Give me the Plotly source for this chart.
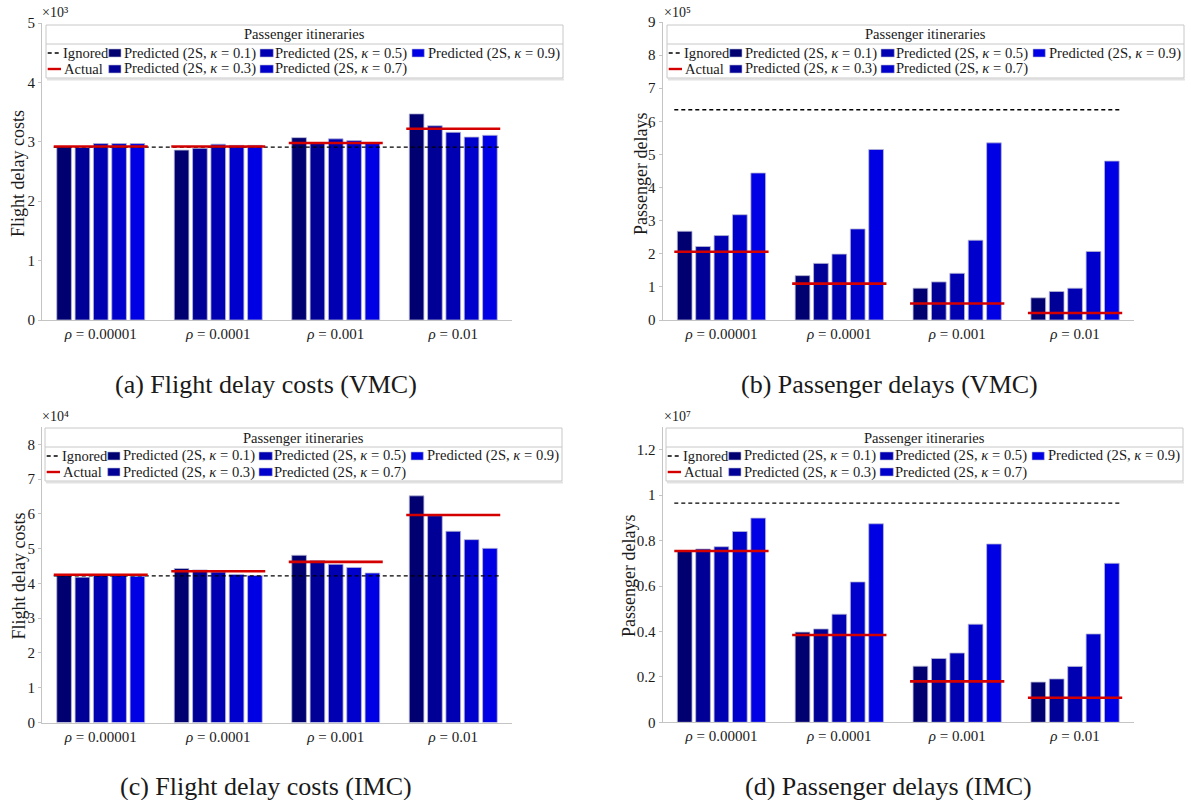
import plotly.graph_objects as go

W, H = 1191, 800
FONT = "'Liberation Serif', 'Times New Roman', serif"
TXT = "#1a1a1a"

# ---------------- data ----------------
rho_labels = ["<i>ρ</i> = 0.00001", "<i>ρ</i> = 0.0001", "<i>ρ</i> = 0.001", "<i>ρ</i> = 0.01"]
kappa_labels = ["0.1", "0.3", "0.5", "0.7", "0.9"]
bar_colors = ["#000070", "#000096", "#0000b2", "#0000cc", "#0000e4"]

# (a) Flight delay costs (VMC), units of 1e3 ; rows = kappa 0.1..0.9, cols = rho
flight_vmc_pred = [
    [2.92, 2.86, 3.07, 3.47],
    [2.905, 2.89, 2.98, 3.27],
    [2.97, 2.96, 3.05, 3.16],
    [2.97, 2.94, 3.02, 3.08],
    [2.97, 2.94, 2.98, 3.11],
]
flight_vmc_actual = [2.92, 2.92, 2.98, 3.22]
flight_vmc_ignored = 2.91

# (b) Passenger delays (VMC), units of 1e5
pax_vmc_pred = [
    [2.68, 1.34, 0.96, 0.67],
    [2.22, 1.71, 1.15, 0.86],
    [2.55, 1.99, 1.41, 0.96],
    [3.18, 2.75, 2.41, 2.07],
    [4.44, 5.15, 5.35, 4.80],
]
pax_vmc_actual = [2.06, 1.10, 0.50, 0.21]
pax_vmc_ignored = 6.35

# (c) Flight delay costs (IMC), units of 1e4
flight_imc_pred = [
    [4.23, 4.43, 4.81, 6.52],
    [4.18, 4.39, 4.66, 5.95],
    [4.23, 4.33, 4.55, 5.50],
    [4.23, 4.26, 4.46, 5.26],
    [4.21, 4.23, 4.30, 5.01],
]
flight_imc_actual = [4.25, 4.35, 4.62, 5.97]
flight_imc_ignored = 4.22

# (d) Passenger delays (IMC), units of 1e7
pax_imc_pred = [
    [0.753, 0.397, 0.247, 0.177],
    [0.763, 0.411, 0.281, 0.191],
    [0.773, 0.476, 0.305, 0.246],
    [0.840, 0.618, 0.432, 0.389],
    [0.899, 0.874, 0.785, 0.700],
]
pax_imc_actual = [0.754, 0.384, 0.180, 0.108]
pax_imc_ignored = 0.965

# ---------------- layout geometry (pixels) ----------------
panels = [
    dict(pred=flight_vmc_pred, actual=flight_vmc_actual, ignored=flight_vmc_ignored,
         ymax=5, dtick=1, ytitle="Flight delay costs", exp="×10³",
         px=(42, 512, 23, 320), leg=(46, 25), expxy=(41, 13), ytxy=(18, 174),
         caption="(a) Flight delay costs (VMC)", capxy=(266, 385)),
    dict(pred=pax_vmc_pred, actual=pax_vmc_actual, ignored=pax_vmc_ignored,
         ymax=9, dtick=1, ytitle="Passenger delays", exp="×10⁵",
         px=(662.5, 1134, 22, 320), leg=(667, 25), expxy=(663, 13), ytxy=(641, 174),
         caption="(b) Passenger delays (VMC)", capxy=(889, 385)),
    dict(pred=flight_imc_pred, actual=flight_imc_actual, ignored=flight_imc_ignored,
         ymax=8.5, dtick=1, ytitle="Flight delay costs", exp="×10⁴",
         px=(42, 512, 427, 722.5), leg=(45, 428), expxy=(41, 416), ytxy=(18.5, 576),
         caption="(c) Flight delay costs (IMC)", capxy=(266, 786)),
    dict(pred=pax_imc_pred, actual=pax_imc_actual, ignored=pax_imc_ignored,
         ymax=1.3, dtick=0.2, ytitle="Passenger delays", exp="×10⁷",
         px=(662.5, 1134, 427, 722.3), leg=(666, 428), expxy=(663, 416), ytxy=(629, 576),
         caption="(d) Passenger delays (IMC)", capxy=(888, 786)),
]

# legend template (pixel offsets from the box's top-left corner)
LEG_W, LEG_H = 517, 53
LEG_TITLE_Y, LEG_SEP_Y, LEG_R1, LEG_R2 = 9.5, 19, 28, 44
LEG_COLS = [(62.7, 75.0, 76.7), (214.0, 227.3, 228.3), (366.0, 378.3, 380.7)]
LEG_FS = 14.6


def fx(x):
    return x / W


def fy(y):
    return 1 - y / H


fig = go.Figure()
shapes = []
annotations = []
x_pos = list(range(len(rho_labels)))
half = 0.4

for i, p in enumerate(panels, start=1):
    xa, ya = f"x{i}", f"y{i}"
    for k, vals in enumerate(p["pred"]):
        fig.add_trace(go.Bar(
            x=x_pos, y=vals, xaxis=xa, yaxis=ya,
            name=f"Predicted (2S, κ = {kappa_labels[k]})",
            marker=dict(color=bar_colors[k], line=dict(color="#b8b8d4", width=0.8)),
            showlegend=False,
        ))
    fig.add_trace(go.Scatter(
        x=[x_pos[0] - half, x_pos[-1] + half], y=[p["ignored"]] * 2,
        xaxis=xa, yaxis=ya, mode="lines", name="Ignored",
        line=dict(color="black", width=1.3, dash="4px,3px"), showlegend=False,
    ))
    ax_x, ax_y = [], []
    for j, v in enumerate(p["actual"]):
        ax_x += [x_pos[j] - half, x_pos[j] + half, None]
        ax_y += [v, v, None]
    fig.add_trace(go.Scatter(
        x=ax_x, y=ax_y, xaxis=xa, yaxis=ya, mode="lines", name="Actual",
        line=dict(color="#d40000", width=2.6), showlegend=False,
    ))

    x0, x1, y0, y1 = p["px"]
    sfx = "" if i == 1 else str(i)
    fig.update_layout(**{
        f"xaxis{sfx}": dict(
            domain=[fx(x0), fx(x1)], anchor=ya, range=[-0.5, 3.5], automargin=False,
            tickvals=x_pos, ticktext=rho_labels, ticks="", showgrid=False,
            zeroline=False, showline=True, linecolor="#c4c4c4", linewidth=1,
            tickfont=dict(family=FONT, size=15, color=TXT), fixedrange=True,
        ),
        f"yaxis{sfx}": dict(
            domain=[fy(y1), fy(y0)], anchor=xa, range=[0, p["ymax"]], automargin=False,
            dtick=p["dtick"], tick0=0, ticks="outside", ticklen=3, tickcolor="#c4c4c4",
            showgrid=False, zeroline=False, showline=True, linecolor="#c4c4c4",
            linewidth=1, tickfont=dict(family=FONT, size=15, color=TXT),
            fixedrange=True,
        ),
    })

    # y axis title
    tx, ty = p["ytxy"]
    annotations.append(dict(
        x=fx(tx), y=fy(ty), xref="paper", yref="paper", xanchor="center", yanchor="middle",
        text=p["ytitle"], textangle=-90, showarrow=False, borderpad=0,
        font=dict(family=FONT, size=18, color=TXT),
    ))
    # exponent label
    ex, ey = p["expxy"]
    annotations.append(dict(
        x=fx(ex), y=fy(ey), xref="paper", yref="paper", xanchor="left", yanchor="middle",
        text=p["exp"], showarrow=False, borderpad=0,
        font=dict(family=FONT, size=14, color=TXT),
    ))
    # caption
    cx, cy = p["capxy"]
    annotations.append(dict(
        x=fx(cx), y=fy(cy), xref="paper", yref="paper", xanchor="center", yanchor="middle",
        text=p["caption"], showarrow=False, font=dict(family=FONT, size=26, color=TXT),
    ))

    # legend box (drawn manually to match the column-major 2-row layout)
    lx, ly = p["leg"]
    shapes.append(dict(type="line", xref="paper", yref="paper",
                       x0=fx(lx + 1), x1=fx(lx + LEG_W + 1), y0=fy(ly + LEG_H + 1.5),
                       y1=fy(ly + LEG_H + 1.5),
                       line=dict(color="#e2e2e2", width=2), layer="above"))
    shapes.append(dict(type="rect", xref="paper", yref="paper",
                       x0=fx(lx), x1=fx(lx + LEG_W), y0=fy(ly + LEG_H), y1=fy(ly),
                       line=dict(color="#c8c8c8", width=1), fillcolor="white", layer="above"))
    shapes.append(dict(type="line", xref="paper", yref="paper",
                       x0=fx(lx), x1=fx(lx + LEG_W), y0=fy(ly + LEG_SEP_Y), y1=fy(ly + LEG_SEP_Y),
                       line=dict(color="#c8c8c8", width=1), layer="above"))
    annotations.append(dict(
        x=fx(lx + LEG_W / 2), y=fy(ly + LEG_TITLE_Y), xref="paper", yref="paper",
        xanchor="center", yanchor="middle", text="Passenger itineraries", showarrow=False,
        borderpad=0, font=dict(family=FONT, size=LEG_FS, color=TXT)))
    r1, r2 = ly + LEG_R1, ly + LEG_R2
    shapes.append(dict(type="line", xref="paper", yref="paper",
                       x0=fx(lx + 1.7), x1=fx(lx + 15), y0=fy(r1), y1=fy(r1),
                       line=dict(color="black", width=1.3, dash="4px,3px"), layer="above"))
    annotations.append(dict(x=fx(lx + 15.7), y=fy(r1), xref="paper", yref="paper",
                            xanchor="left", yanchor="middle", text="Ignored", showarrow=False,
                            borderpad=0, font=dict(family=FONT, size=LEG_FS, color=TXT)))
    shapes.append(dict(type="line", xref="paper", yref="paper",
                       x0=fx(lx + 1.7), x1=fx(lx + 15), y0=fy(r2), y1=fy(r2),
                       line=dict(color="#d40000", width=2.4), layer="above"))
    annotations.append(dict(x=fx(lx + 16.5), y=fy(r2), xref="paper", yref="paper",
                            xanchor="left", yanchor="middle", text="Actual", showarrow=False,
                            borderpad=0, font=dict(family=FONT, size=LEG_FS, color=TXT)))
    for k, kap in enumerate(kappa_labels):
        c = LEG_COLS[k // 2]
        ry = r1 if k % 2 == 0 else r2
        shapes.append(dict(type="rect", xref="paper", yref="paper",
                           x0=fx(lx + c[0]), x1=fx(lx + c[1]),
                           y0=fy(ry + 4), y1=fy(ry - 4),
                           fillcolor=bar_colors[k], line=dict(color="#b8b8d4", width=0.6),
                           layer="above"))
        annotations.append(dict(x=fx(lx + c[2]), y=fy(ry), xref="paper", yref="paper",
                                xanchor="left", yanchor="middle",
                                text=f"Predicted (2S, <i>κ</i> = {kap})", showarrow=False,
                                borderpad=0, font=dict(family=FONT, size=LEG_FS, color=TXT)))

fig.update_layout(
    width=W, height=H, margin=dict(l=0, r=0, t=0, b=0, autoexpand=False),
    paper_bgcolor="white", plot_bgcolor="white",
    barmode="group", bargap=0.22, bargroupgap=0.2,
    showlegend=False, shapes=shapes, annotations=annotations,
    font=dict(family=FONT, color=TXT),
)

fig.write_html("out.html")
